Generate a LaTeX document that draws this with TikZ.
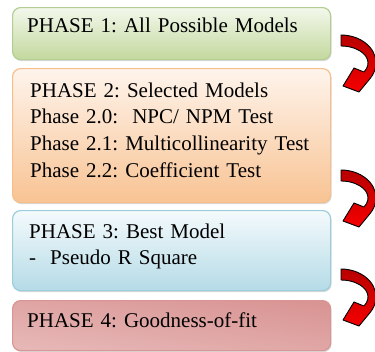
\documentclass[tikz,border=0pt]{standalone}
\usepackage{fontspec}
\setmainfont{Liberation Serif}
\usetikzlibrary{shadows}
\definecolor{greentop}{HTML}{F3F8EC}
\definecolor{greenbot}{HTML}{C3D89E}
\definecolor{greenline}{HTML}{B3CD92}
\definecolor{orangetop}{HTML}{FEF4EC}
\definecolor{orangebot}{HTML}{F8C393}
\definecolor{orangeline}{HTML}{F7BE8C}
\definecolor{bluetop}{HTML}{F4FAFC}
\definecolor{bluebot}{HTML}{B5DBE7}
\definecolor{blueline}{HTML}{9CCDDB}
\definecolor{pinktop}{HTML}{D99594}
\definecolor{pinkmid}{HTML}{F6E6E6}
\definecolor{pinkbot}{HTML}{E6B7B6}
\definecolor{pinkline}{HTML}{D99593}
\definecolor{arrowdark}{HTML}{B80000}
\definecolor{arrowred}{HTML}{F50000}

\begin{document}
\begin{tikzpicture}[x=1pt,y=-1pt,
  phase/.style={draw,line width=1.2pt,rounded corners=8pt,minimum width=318pt,anchor=north west,inner sep=0pt,
    drop shadow={shadow xshift=1pt,shadow yshift=-1.5pt,opacity=.3}},
  phasetext/.style={anchor=base west,inner sep=0pt,text width=310pt,align=left,
    font=\frenchspacing\fontsize{21}{26.7}\selectfont},
  turnarrow/.pic={
    \path[draw=black,line width=.9pt,line join=round,top color=arrowdark,bottom color=arrowred]
      (0,-28) arc[start angle=-90,end angle=34,x radius=35,y radius=28]
      -- (18,29) -- (2,23) -- (13,5)
      -- (22.9,9) arc[start angle=32,end angle=-90,x radius=27,y radius=17] -- cycle;
  }]
  \useasboundingbox (0,0) rectangle (375,351);

  % phase boxes
  \node[phase,draw=greenline,top color=greentop,bottom color=greenbot,minimum height=52pt] (p1) at (12,7) {};
  \node[phase,draw=orangeline,top color=orangetop,bottom color=orangebot,minimum height=134pt] (p2) at (12,68) {};
  \node[phase,draw=blueline,top color=bluetop,bottom color=bluebot,minimum height=80pt] (p3) at (12,210) {};
  \node[phase,draw=pinkline,top color=pinktop,middle color=pinkmid,bottom color=pinkbot,shading angle=-8,minimum height=50pt] (p4) at (12,300) {};

  % texts
  \node[phasetext] (t1) at (27,32) {PHASE 1: All Possible Models};
  \node[phasetext] (t2) at (30,97) {PHASE 2: Selected Models\\
    Phase 2.0:\ \ NPC/ NPM Test\\
    Phase 2.1: Multicollinearity Test\\
    Phase 2.2: Coefficient Test};
  \node[phasetext] (t3) at (29,238) {PHASE 3: Best Model\\
    -\ \ Pseudo R Square};
  \node[phasetext] (t4) at (27,327) {PHASE 4: Goodness-of-fit};

  % curved arrows between phases
  \foreach \cy in {63,198,297}
    \pic at (341,\cy) {turnarrow};
\end{tikzpicture}
\end{document}
